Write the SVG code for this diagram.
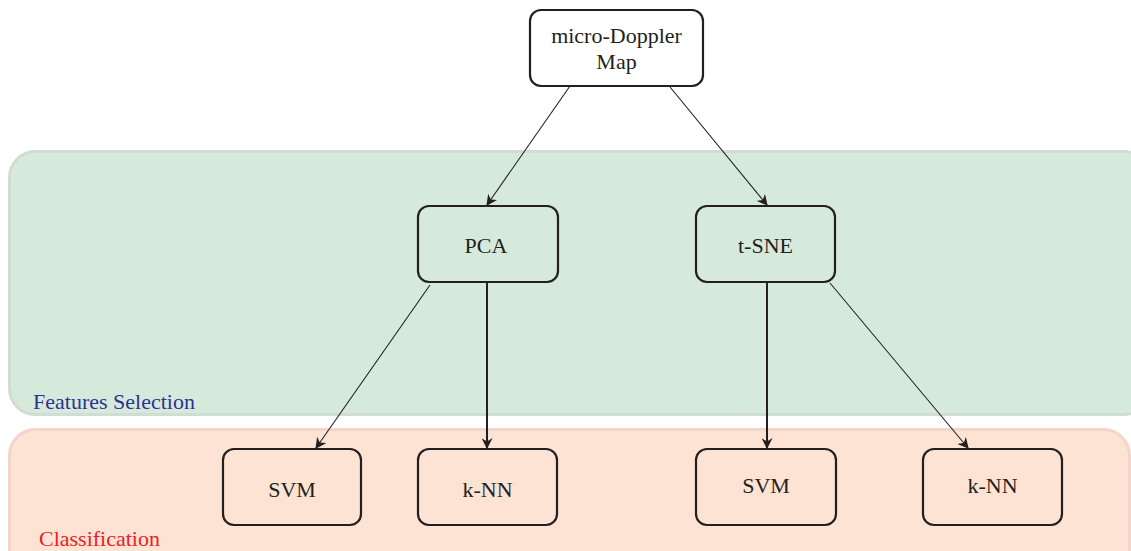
<svg xmlns="http://www.w3.org/2000/svg" width="1131" height="551" viewBox="0 0 1131 551">
  <style>
    .node rect { fill: none; stroke: #231f20; stroke-width: 2.2; }
    .node text { font-family: "Liberation Serif", "Times New Roman", serif; font-size: 22px; fill: #231f20; text-anchor: middle; }
    .stage { font-family: "Liberation Serif", "Times New Roman", serif; font-size: 22px; }
    .edge { stroke: #231f20; stroke-width: 1.1; fill: none; marker-end: url(#arr); }
    .edge.bold { stroke-width: 2; }
  </style>
  <defs>
    <marker id="arr" viewBox="0 0 10 10" refX="9" refY="5" markerWidth="11" markerHeight="11" markerUnits="userSpaceOnUse" orient="auto">
      <path d="M0,0 L10,5 L0,10 L3,5 Z" fill="#231f20"/>
    </marker>
  </defs>
  <rect width="1131" height="551" fill="#ffffff"/>

  <!-- stage panels -->
  <g id="panel-features">
    <rect x="9.5" y="151.5" width="1140" height="263" rx="26" fill="#d6eadc" stroke="#d1dcd2" stroke-width="3"/>
    <text class="stage" x="33" y="409" fill="#2e3192">Features Selection</text>
  </g>
  <g id="panel-classification">
    <rect x="9.5" y="429.5" width="1120" height="150" rx="26" fill="#fde3d4" stroke="#f4d5cc" stroke-width="3"/>
    <text class="stage" x="39" y="546" fill="#ed1c24">Classification</text>
  </g>

  <!-- connectors -->
  <g id="connectors">
    <path class="edge" d="M570,86 L487,205"/>
    <path class="edge" d="M670,87 L767,205"/>
    <path class="edge" d="M430,285 L316,448"/>
    <path class="edge bold" d="M487,283 L487,448"/>
    <path class="edge bold" d="M767,283 L767,448"/>
    <path class="edge" d="M830,283 L968,448"/>
  </g>

  <g id="node-map" class="node">
    <rect x="530" y="10" width="173" height="76" rx="11"/>
    <text x="616.5" y="43">micro-Doppler</text>
    <text x="616.5" y="69">Map</text>
  </g>
  <g id="node-pca" class="node">
    <rect x="418" y="206" width="140" height="76" rx="11"/>
    <text x="486" y="253">PCA</text>
  </g>
  <g id="node-tsne" class="node">
    <rect x="696" y="206" width="139" height="76" rx="11"/>
    <text x="765.5" y="253">t-SNE</text>
  </g>
  <g id="node-svm1" class="node">
    <rect x="223" y="449" width="138" height="76" rx="11"/>
    <text x="292" y="497">SVM</text>
  </g>
  <g id="node-knn1" class="node">
    <rect x="418" y="449" width="139" height="76" rx="11"/>
    <text x="487.5" y="497">k-NN</text>
  </g>
  <g id="node-svm2" class="node">
    <rect x="696" y="449" width="140" height="76" rx="11"/>
    <text x="766" y="493">SVM</text>
  </g>
  <g id="node-knn2" class="node">
    <rect x="923" y="449" width="139" height="76" rx="11"/>
    <text x="992.5" y="493">k-NN</text>
  </g>
</svg>
